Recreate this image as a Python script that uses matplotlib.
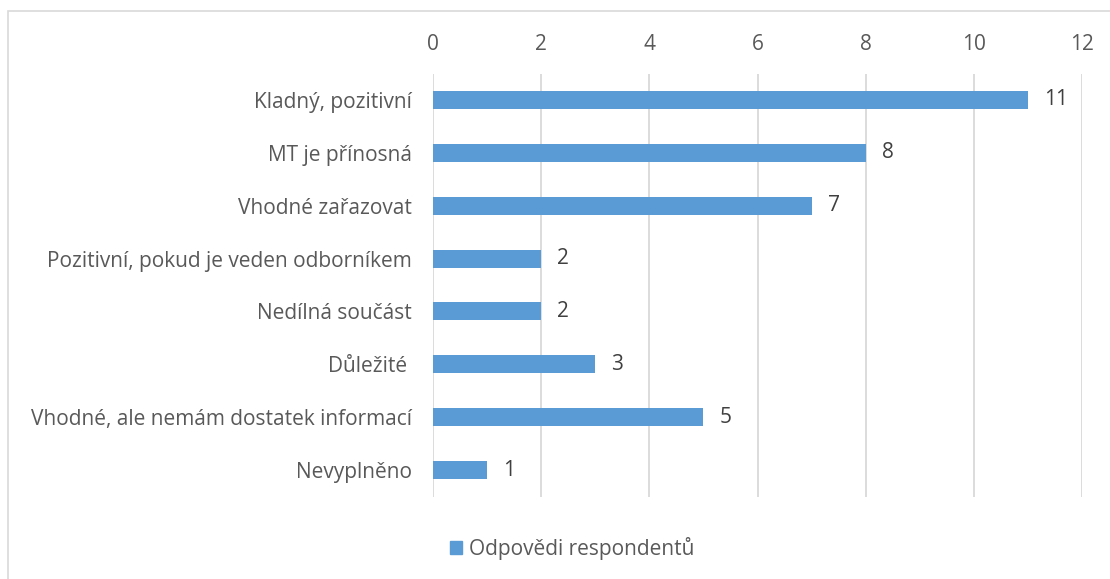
import matplotlib.pyplot as plt
import matplotlib.patches as mpatches

categories = [
    "Kladný, pozitivní",
    "MT je přínosná",
    "Vhodné zařazovat",
    "Pozitivní, pokud je veden odborníkem",
    "Nedílná součást",
    "Důležité ",
    "Vhodné, ale nemám dostatek informací",
    "Nevyplněno",
]
values = [11, 8, 7, 2, 2, 3, 5, 1]
series_name = "Odpovědi respondentů"
x_ticks = [0, 2, 4, 6, 8, 10, 12]

BAR = "#5B9BD5"
TEXT = "#595959"
GRID = "#d9d9d9"
FS = 15

plt.rcParams["font.family"] = ["Open Sans", "DejaVu Sans"]

W, H = 1110, 579
fig = plt.figure(figsize=(W / 100, H / 100), dpi=100)

# outer chart border (right/bottom run off the image)
fig.add_artist(mpatches.Rectangle((8 / W, -0.1), 1.2, 1 - 11 / H + 0.1,
                                  transform=fig.transFigure, fill=False,
                                  edgecolor="#d9d9d9", linewidth=1.2))

ax = fig.add_axes([433 / W, 1 - 496.5 / H, (1082 - 433) / W, (496.5 - 73.5) / H])

ypos = list(range(len(categories)))
ax.barh(ypos, values, height=0.34, color=BAR, zorder=3)
for y, v in zip(ypos, values):
    ax.text(v + 0.3, y, str(v), va="center", ha="left", fontsize=FS, color="#404040")

ax.set_ylim(len(categories) - 0.5, -0.5)
ax.set_xlim(0, 12)
ax.set_xticks(x_ticks)
ax.xaxis.tick_top()
ax.tick_params(axis="x", length=0, pad=13.5, labelsize=FS, labelcolor=TEXT)
ax.set_yticks(ypos)
ax.set_yticklabels(categories)
ax.tick_params(axis="y", length=0, pad=15, labelsize=FS, labelcolor=TEXT)

ax.grid(axis="x", color=GRID, linewidth=1.3, zorder=0)
for s in ax.spines.values():
    s.set_visible(False)

handles = [mpatches.Patch(color=BAR, label=series_name)]
fig.legend(handles=handles, loc="center", bbox_to_anchor=(572 / W, 1 - 548 / H),
           frameon=False, fontsize=FS, labelcolor=TEXT, handlelength=0.6,
           handleheight=0.6, handletextpad=0.3)

fig.savefig("out.png", dpi=100)
